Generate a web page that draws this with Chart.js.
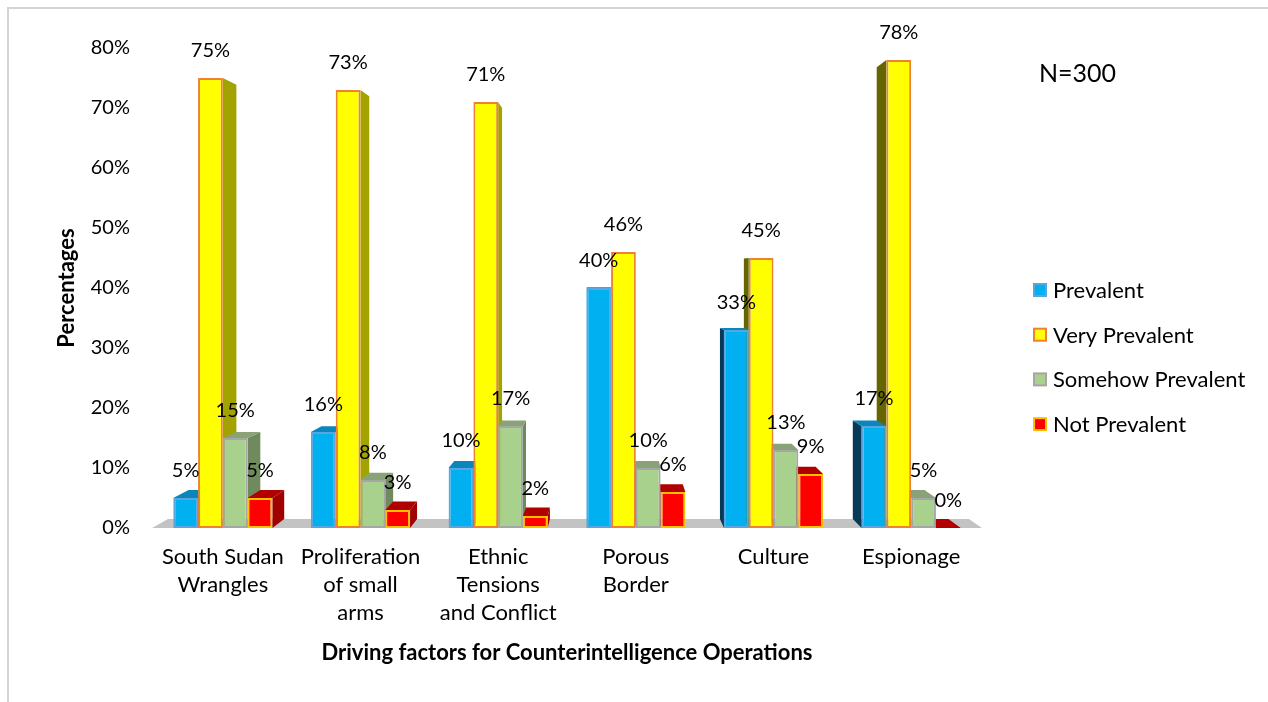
<!DOCTYPE html>
<html><head><meta charset="utf-8">
<script src="https://cdn.jsdelivr.net/npm/chart.js@4.4.1/dist/chart.umd.min.js"></script>
<style>html,body{margin:0;padding:0;background:#fff;}canvas{display:block;}</style>
</head><body>
<canvas id="c" width="1268" height="702"></canvas>
<script>
// ---- data ----
const categories = [["South Sudan","Wrangles"],["Proliferation","of small","arms"],["Ethnic","Tensions","and Conflict"],["Porous","Border"],["Culture"],["Espionage"]];
const seriesNames = ["Prevalent","Very Prevalent","Somehow Prevalent","Not Prevalent"];
const prevalent        = [5, 16, 10, 40, 33, 17];
const veryPrevalent    = [75, 73, 71, 46, 45, 78];
const somehowPrevalent = [15, 8, 17, 10, 13, 5];
const notPrevalent     = [5, 3, 2, 6, 9, 0];
const yMin = 0, yMax = 80, yStep = 10;
const sampleNote = "N=300";
const xTitle = "Driving factors for Counterintelligence Operations";
const yTitle = "Percentages";

// ---- styles ----
const FONT = "Lato, 'Open Sans', sans-serif";
const styles = [
  {fill:'#00B0F0', border:'#5AA6DC', sideR:'#0C5478', sideL:'#063A56', top:'#0A86BC'},
  {fill:'#FFFF00', border:'#EE8232', sideR:'#A3A300', sideL:'#666600', top:'#B8B800'},
  {fill:'#A9D18E', border:'#A6A6A6', sideR:'#6F8A5D', sideL:'#5E774F', top:'#8AA278'},
  {fill:'#FF0000', border:'#FFC000', sideR:'#A00000', sideL:'#8A0000', top:'#B00000'}
];
const allSeries = [prevalent, veryPrevalent, somehowPrevalent, notPrevalent];
const VP = {x: 610, y: 270}, K = 0.035;
const back = (x, y) => ({x: x + K * (VP.x - x), y: y + K * (VP.y - y)});

function poly(ctx, pts, color) {
  ctx.beginPath();
  ctx.moveTo(pts[0].x, pts[0].y);
  for (let i = 1; i < pts.length; i++) ctx.lineTo(pts[i].x, pts[i].y);
  ctx.closePath();
  ctx.fillStyle = color;
  ctx.fill();
}

const framePlugin = {
  id: 'frame',
  beforeDraw(chart) {
    const ctx = chart.ctx;
    ctx.save();
    ctx.fillStyle = '#D4D4D4';
    ctx.fillRect(7, 7, 2, 695);
    ctx.fillRect(7, 7, 1261, 2);
    ctx.restore();
  }
};

const depthPlugin = {
  id: 'depth',
  beforeDatasetsDraw(chart) {
    const ctx = chart.ctx;
    const ca = chart.chartArea;
    ctx.save();
    const fl = {x: ca.left - 2, y: ca.bottom}, fr = {x: ca.right + 2, y: ca.bottom};
    poly(ctx, [fl, fr, back(fr.x, fr.y), back(fl.x, fl.y)], '#C3C3C3');
    const bars = [];
    chart.data.datasets.forEach((ds, di) => {
      const meta = chart.getDatasetMeta(di);
      meta.data.forEach(el => {
        const p = el.getProps(['x', 'y', 'base', 'width'], true);
        bars.push({L: p.x - p.width / 2, R: p.x + p.width / 2, T: Math.min(p.y, p.base), B: Math.max(p.y, p.base), st: styles[di]});
      });
    });
    bars.forEach(b => {
      if (VP.x > b.R) {
        poly(ctx, [{x: b.R, y: b.T}, back(b.R, b.T), back(b.R, b.B), {x: b.R, y: b.B}], b.st.sideR);
      } else if (VP.x < b.L) {
        poly(ctx, [{x: b.L, y: b.T}, back(b.L, b.T), back(b.L, b.B), {x: b.L, y: b.B}], b.st.sideL);
      }
    });
    bars.forEach(b => {
      if (b.T > VP.y) {
        poly(ctx, [{x: b.L, y: b.T}, {x: b.R, y: b.T}, back(b.R, b.T), back(b.L, b.T)], b.st.top);
      }
    });
    ctx.restore();
  }
};

const labelPlugin = {
  id: 'labels',
  afterDatasetsDraw(chart) {
    const ctx = chart.ctx;
    ctx.save();
    ctx.fillStyle = '#000';
    ctx.font = "20px " + FONT;
    ctx.textAlign = 'center';
    ctx.textBaseline = 'middle';
    chart.data.datasets.forEach((ds, di) => {
      chart.getDatasetMeta(di).data.forEach((el, i) => {
        ctx.fillText(ds.data[i] + '%', el.x, el.y - 27);
      });
    });
    ctx.textAlign = 'left';
    ctx.font = "25px " + FONT;
    ctx.fillText(sampleNote, 1039, 74);
    ctx.font = "22px " + FONT;
    chart.data.datasets.forEach((ds, di) => {
      const cy = 290 + di * 44.7;
      ctx.fillStyle = ds.borderColor;
      ctx.fillRect(1033, cy - 7, 14, 14);
      ctx.fillStyle = ds.backgroundColor;
      ctx.fillRect(1035, cy - 5, 10, 10);
      ctx.fillStyle = '#000';
      ctx.fillText(ds.label, 1053, cy + 1);
    });
    ctx.restore();
  }
};

const datasets = seriesNames.map((name, i) => ({
  label: name,
  data: allSeries[i],
  backgroundColor: styles[i].fill,
  borderColor: styles[i].border,
  borderWidth: 2,
  borderSkipped: false,
  categoryPercentage: 0.72,
  barPercentage: 1.0
}));

new Chart(document.getElementById('c'), {
  type: 'bar',
  data: {labels: categories, datasets},
  options: {
    responsive: false,
    animation: false,
    events: [],
    layout: {padding: {left: 8, right: 288, top: 48, bottom: 0}},
    plugins: {legend: {display: false}, tooltip: {enabled: false}},
    scales: {
      x: {
        grid: {display: false, drawTicks: false},
        border: {display: false},
        ticks: {color: '#000', font: {family: FONT, size: 22, lineHeight: 1.27}, padding: 15, maxRotation: 0, autoSkip: false},
        title: {display: true, text: xTitle, color: '#000', font: {family: FONT, size: 22, weight: 'bold', lineHeight: 1.2}, padding: {top: 0, bottom: 36}},
        afterFit(s) { s.height = 174; }
      },
      y: {
        min: yMin, max: yMax,
        grid: {display: false, drawTicks: false},
        border: {display: false},
        ticks: {stepSize: yStep, color: '#000', font: {family: FONT, size: 20}, padding: 24, callback: v => v + '%'},
        title: {display: true, text: yTitle, color: '#000', font: {family: FONT, size: 22, weight: 'bold', lineHeight: 1.2}, padding: {top: 46, bottom: 0}},
        afterFit(s) { s.width = 146; }
      }
    }
  },
  plugins: [framePlugin, depthPlugin, labelPlugin]
});
</script>
</body></html>
